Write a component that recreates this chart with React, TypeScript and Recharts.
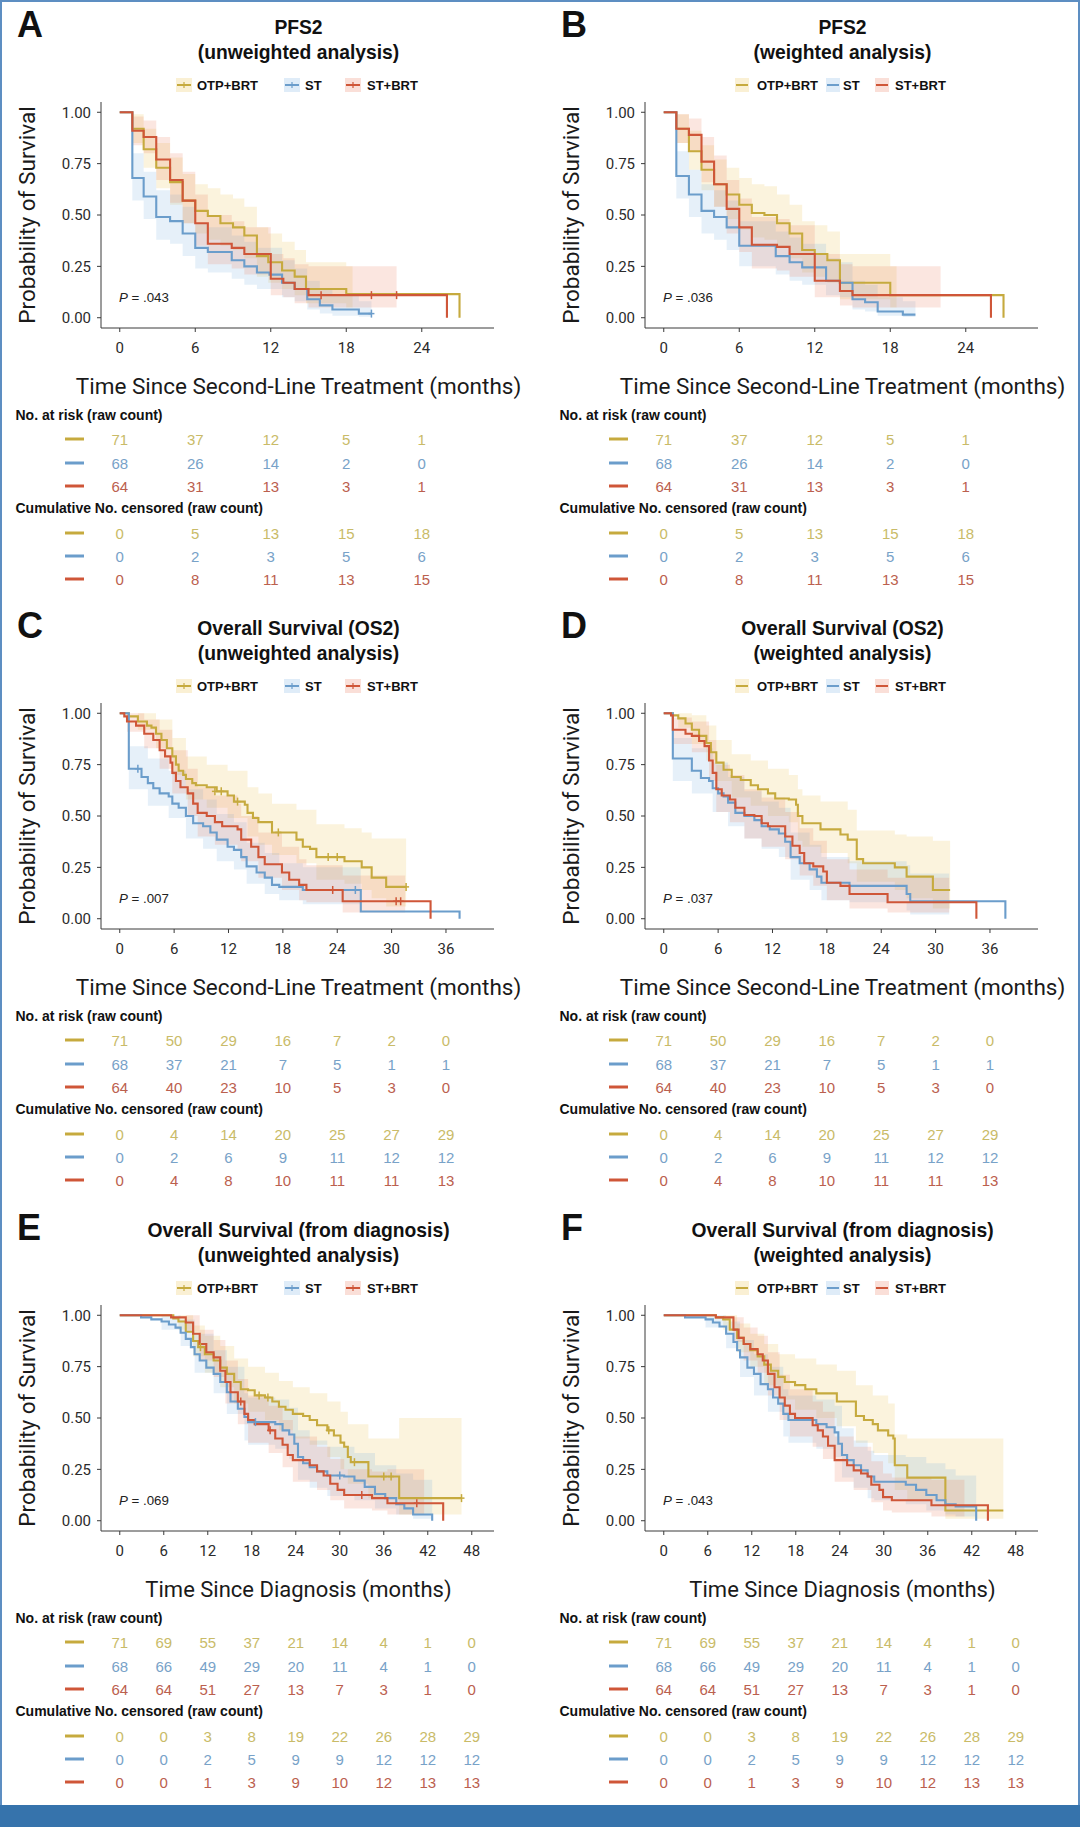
import React from 'react';
import { ComposedChart, Line, Area, Scatter, XAxis, YAxis } from 'recharts';

// ---------- colours ----------
const GOLD = '#c6aa3e';
const BLUE = '#6b9dcb';
const RED = '#cf5638';
const GOLD_FILL = '#eac455';
const BLUE_FILL = '#80b2e2';
const RED_FILL = '#ec8062';
const GOLD_NUM = '#c9bb68';
const BLUE_NUM = '#78a2c8';
const RED_NUM = '#bb604e';

const GROUPS = ['OTP+BRT', 'ST', 'ST+BRT'];
const Y_TICKS = [0, 0.25, 0.5, 0.75, 1];
const TICKS_24 = [0, 6, 12, 18, 24];
const TICKS_36 = [0, 6, 12, 18, 24, 30, 36];
const TICKS_48 = [0, 6, 12, 18, 24, 30, 36, 42, 48];

// ---------- Panel A: PFS2 unweighted ----------
const A_OTP = [[0,1],[1,0.92],[1.9,0.82],[2.9,0.73],[4,0.66],[5,0.57],[6,0.52],[7,0.495],[8,0.46],[9,0.44],[9.9,0.40],[10.9,0.30],[11.8,0.27],[12.9,0.23],[13.9,0.20],[14.8,0.14],[18,0.115],[27,0]];
const A_ST = [[0,1],[1,0.68],[1.9,0.59],[2.9,0.49],[4,0.47],[5,0.41],[6,0.34],[7,0.32],[8.9,0.28],[9.9,0.25],[10.9,0.22],[11.9,0.21],[12.9,0.17],[13.9,0.14],[14.9,0.09],[15.9,0.06],[16.9,0.04],[19,0.02],[20,0.02]];
const A_STB = [[0,1],[1,0.91],[1.9,0.88],[2.9,0.77],[4,0.67],[5,0.57],[6,0.46],[7,0.36],[8.9,0.34],[9.9,0.31],[12,0.19],[13,0.17],[13.9,0.14],[15,0.11],[26,0]];
const A_OTP_CI = [[0,1,1],[1,0.85,0.99],[1.9,0.73,0.92],[2.9,0.63,0.85],[4,0.55,0.78],[5,0.46,0.70],[6,0.41,0.65],[7,0.38,0.63],[8,0.35,0.60],[9,0.33,0.58],[9.9,0.29,0.54],[10.9,0.20,0.44],[11.8,0.17,0.41],[12.9,0.14,0.37],[13.9,0.11,0.33],[14.8,0.07,0.27],[18,0.05,0.25],[18.5,0.05,0.25]];
const A_ST_CI = [[0,1,1],[1,0.57,0.80],[1.9,0.48,0.71],[2.9,0.38,0.62],[4,0.36,0.60],[5,0.30,0.54],[6,0.24,0.46],[7,0.22,0.44],[8.9,0.19,0.40],[9.9,0.16,0.37],[10.9,0.14,0.34],[12.9,0.10,0.28],[13.9,0.08,0.24],[14.9,0.04,0.18],[15.9,0.02,0.14],[16.9,0.01,0.11],[19,0.005,0.08],[20,0.005,0.08]];
const A_STB_CI = [[0,1,1],[1,0.84,0.98],[1.9,0.80,0.96],[2.9,0.67,0.88],[4,0.56,0.80],[5,0.46,0.71],[6,0.35,0.60],[7,0.26,0.50],[8.9,0.24,0.47],[9.9,0.21,0.44],[12,0.11,0.31],[13,0.10,0.29],[13.9,0.07,0.26],[15,0.05,0.25],[22,0.05,0.25]];
const A_ST_CENS = [[20,0.02]];
const A_STB_CENS = [[16,0.11],[20,0.11],[22,0.11]];

// ---------- Panel B: PFS2 weighted ----------
const B_OTP = [[0,1],[1,0.92],[2,0.81],[3,0.72],[4,0.65],[5,0.60],[6,0.55],[7,0.51],[8,0.50],[9,0.46],[10,0.41],[11,0.33],[12,0.31],[13,0.28],[14,0.17],[18,0.11],[27,0]];
const B_ST = [[0,1],[1,0.69],[2,0.60],[3,0.52],[4,0.49],[5,0.44],[6,0.35],[8.9,0.30],[10,0.27],[11,0.245],[12.9,0.18],[14,0.17],[15,0.09],[16,0.075],[17,0.03],[19,0.015],[20,0.015]];
const B_STB = [[0,1],[1,0.92],[2,0.89],[3,0.76],[4,0.65],[5,0.53],[6,0.44],[7,0.355],[9,0.345],[10,0.31],[12,0.18],[14,0.13],[15,0.11],[26,0]];
const B_OTP_CI = [[0,1,1],[1,0.85,0.99],[2,0.72,0.91],[3,0.62,0.84],[4,0.54,0.77],[5,0.48,0.73],[6,0.43,0.68],[7,0.39,0.65],[8,0.38,0.64],[9,0.34,0.60],[10,0.29,0.55],[11,0.22,0.47],[12,0.20,0.45],[13,0.17,0.42],[14,0.09,0.31],[18,0.05,0.25],[18.5,0.05,0.25]];
const B_ST_CI = [[0,1,1],[1,0.58,0.81],[2,0.49,0.72],[3,0.41,0.65],[4,0.38,0.62],[5,0.33,0.57],[6,0.25,0.47],[8.9,0.21,0.42],[10,0.18,0.39],[11,0.16,0.36],[12.9,0.11,0.29],[14,0.10,0.27],[15,0.04,0.18],[16,0.03,0.16],[17,0.01,0.10],[19,0.003,0.08],[20,0.003,0.08]];
const B_STB_CI = [[0,1,1],[1,0.85,0.99],[2,0.81,0.97],[3,0.66,0.88],[4,0.54,0.79],[5,0.41,0.67],[6,0.32,0.58],[7,0.24,0.49],[9,0.23,0.48],[10,0.20,0.45],[12,0.10,0.31],[14,0.06,0.26],[15,0.05,0.25],[22,0.05,0.27]];

// ---------- Panel C: OS2 unweighted ----------
const C_OTP = [[0,1],[1,0.985],[2,0.96],[3,0.94],[3.5,0.93],[4,0.90],[4.6,0.87],[5.2,0.83],[5.8,0.79],[6.2,0.75],[6.5,0.72],[7,0.70],[7.3,0.68],[8,0.66],[8.4,0.65],[9.6,0.64],[10.7,0.62],[11.9,0.60],[12.6,0.57],[13.8,0.555],[14.1,0.515],[14.7,0.49],[15.3,0.47],[16.8,0.42],[19.5,0.385],[20.2,0.35],[21,0.34],[21.7,0.30],[24.8,0.28],[26.7,0.25],[27.8,0.20],[29.4,0.155],[31.6,0.155]];
const C_ST = [[0,1],[1,0.73],[2.4,0.69],[3.1,0.66],[3.7,0.635],[4.4,0.61],[5.4,0.595],[5.8,0.56],[6.5,0.54],[7.3,0.50],[8.1,0.465],[9.2,0.45],[10,0.42],[10.7,0.385],[11.9,0.35],[12.6,0.335],[13.4,0.30],[14,0.255],[15.1,0.225],[16,0.20],[16.8,0.165],[17.6,0.155],[20.2,0.14],[26.6,0.035],[37.5,0]];
const C_STB = [[0,1],[0.5,0.985],[0.8,0.96],[1.8,0.94],[2.7,0.90],[3.7,0.87],[4.4,0.82],[5,0.79],[5.6,0.76],[5.8,0.71],[6.2,0.67],[6.7,0.64],[7.5,0.61],[8.1,0.56],[8.6,0.515],[9.6,0.50],[10.5,0.47],[11.3,0.45],[13,0.435],[13.4,0.385],[14.5,0.35],[15.3,0.30],[16,0.265],[17.9,0.225],[18.7,0.19],[19.8,0.165],[20.6,0.14],[24.6,0.085],[34.3,0]];
const C_OTP_CI = [[0,1,1],[2,0.92,1],[4,0.83,0.97],[5.8,0.70,0.88],[7.3,0.58,0.79],[9.6,0.54,0.75],[11.9,0.49,0.72],[14.1,0.40,0.64],[15.3,0.36,0.61],[16.8,0.31,0.56],[19.5,0.27,0.53],[21.7,0.19,0.46],[24.8,0.17,0.44],[26.7,0.14,0.42],[27.8,0.10,0.39],[29.4,0.06,0.39],[31.6,0.06,0.39]];
const C_ST_CI = [[0,1,1],[1,0.63,0.84],[3.1,0.55,0.78],[5.4,0.49,0.72],[7.3,0.39,0.63],[9.2,0.34,0.58],[10.7,0.28,0.51],[12.6,0.24,0.47],[14,0.17,0.37],[16,0.12,0.32],[17.6,0.09,0.27],[20.2,0.07,0.25],[26.6,0.07,0.25]];
const C_STB_CI = [[0,1,1],[0.8,0.91,1],[2.7,0.83,0.97],[4.4,0.73,0.92],[5.8,0.61,0.82],[7.5,0.50,0.73],[8.6,0.40,0.64],[10.5,0.36,0.60],[13,0.33,0.56],[13.4,0.28,0.50],[15.3,0.20,0.42],[17.9,0.14,0.35],[19.8,0.09,0.29],[20.6,0.08,0.26],[24.6,0.03,0.21],[31.5,0.03,0.21]];
const C_OTP_CENS = [[10.5,0.62],[11.2,0.62],[13,0.57],[17.5,0.42],[23,0.30],[24,0.30],[31.6,0.155]];
const C_ST_CENS = [[2,0.73],[26,0.14]];
const C_STB_CENS = [[23.5,0.14],[30.5,0.085],[31,0.085]];

// ---------- Panel D: OS2 weighted ----------
const D_OTP = [[0,1],[1,0.99],[1.6,0.975],[2.4,0.95],[3.1,0.92],[3.9,0.89],[4.7,0.855],[5.2,0.81],[5.8,0.76],[6.6,0.725],[7.5,0.69],[8.5,0.675],[9.6,0.65],[10.4,0.63],[11.5,0.61],[12.3,0.585],[13.8,0.58],[14.6,0.555],[14.8,0.50],[15.3,0.465],[17.3,0.435],[19.5,0.41],[20.3,0.385],[21.3,0.29],[22,0.27],[25.5,0.25],[26.8,0.205],[29.7,0.14],[31.6,0.14]];
const D_ST = [[0,1],[1,0.78],[3.1,0.72],[4.1,0.685],[5,0.67],[5.4,0.635],[6,0.61],[6.6,0.595],[7.1,0.565],[7.9,0.515],[8.9,0.50],[10,0.48],[10.8,0.45],[11.7,0.435],[12.7,0.415],[13.4,0.375],[14,0.30],[15,0.27],[16.1,0.24],[16.9,0.205],[17.4,0.175],[20.5,0.16],[26.8,0.12],[27.2,0.085],[37.7,0]];
const D_STB = [[0,1],[0.8,0.99],[1,0.92],[2.4,0.90],[3.1,0.89],[3.9,0.865],[4.5,0.84],[5,0.77],[5.4,0.71],[5.8,0.63],[6.4,0.60],[7.3,0.58],[7.9,0.54],[8.9,0.505],[10,0.50],[10.8,0.465],[11.5,0.45],[13.4,0.40],[14.2,0.355],[15,0.32],[15.5,0.27],[16.5,0.255],[17.6,0.23],[18,0.175],[19.5,0.16],[20.5,0.12],[24.7,0.08],[34.5,0]];
const D_OTP_CI = [[0,1,1],[1.6,0.93,1],[3.1,0.85,0.99],[4.7,0.77,0.94],[5.8,0.67,0.87],[7.5,0.59,0.80],[9.6,0.55,0.77],[11.5,0.50,0.73],[13.8,0.47,0.70],[14.8,0.38,0.63],[15.3,0.35,0.60],[17.3,0.32,0.57],[20.3,0.27,0.53],[21.3,0.18,0.43],[25.5,0.14,0.41],[26.8,0.10,0.40],[29.7,0.05,0.38],[31.6,0.05,0.38]];
const D_ST_CI = [[0,1,1],[1,0.67,0.88],[3.1,0.61,0.83],[5.4,0.52,0.76],[7.1,0.45,0.69],[8.9,0.39,0.62],[10.8,0.34,0.57],[12.7,0.30,0.54],[14,0.19,0.42],[16.1,0.14,0.36],[17.4,0.09,0.30],[20.5,0.08,0.28],[26.8,0.04,0.26],[27.2,0.02,0.22],[31.5,0.02,0.22]];
const D_STB_CI = [[0,1,1],[1,0.85,0.98],[3.1,0.81,0.96],[5,0.67,0.87],[5.8,0.52,0.75],[7.3,0.47,0.70],[8.9,0.39,0.63],[10.8,0.35,0.59],[13.4,0.29,0.52],[15,0.21,0.44],[16.5,0.16,0.38],[18,0.09,0.29],[20.5,0.05,0.24],[24.7,0.03,0.20],[31.5,0.03,0.20]];

// ---------- Panel E: OS from diagnosis unweighted ----------
const E_OTP = [[0,1],[7.3,0.985],[8,0.97],[9,0.92],[10,0.875],[10.7,0.845],[11.6,0.81],[12.8,0.78],[13.7,0.745],[14.6,0.715],[15.6,0.675],[16.5,0.64],[17.5,0.635],[18.4,0.61],[19.8,0.60],[20.8,0.58],[21.7,0.555],[22.6,0.54],[23.6,0.52],[25,0.51],[25.9,0.49],[26.9,0.465],[28.3,0.44],[29.2,0.415],[30.1,0.38],[30.6,0.36],[31.1,0.31],[31.5,0.285],[33.9,0.215],[38.1,0.11],[46.6,0.11]];
const E_ST = [[0,1],[2.9,0.99],[4.3,0.98],[5.7,0.97],[6.7,0.955],[7.6,0.94],[8.3,0.915],[9,0.885],[9.7,0.845],[10.2,0.81],[10.9,0.78],[11.8,0.745],[12.8,0.715],[13.7,0.675],[14.6,0.625],[15.1,0.58],[16.1,0.545],[17,0.505],[17.5,0.48],[21.2,0.47],[22.2,0.44],[23.1,0.42],[23.8,0.375],[24.3,0.31],[25,0.28],[25.9,0.26],[26.9,0.24],[28.3,0.22],[30.6,0.215],[32,0.195],[33.4,0.165],[34.8,0.13],[36.2,0.11],[37.7,0.08],[38.8,0.06],[40,0.03],[42.6,0]];
const E_STB = [[0,1],[7,0.99],[9,0.965],[10,0.91],[10.9,0.86],[11.8,0.82],[12.8,0.795],[13.7,0.73],[14.4,0.675],[15.1,0.625],[16.1,0.58],[17,0.52],[17.5,0.49],[18.4,0.47],[20.3,0.44],[21.2,0.40],[22.2,0.37],[22.9,0.32],[23.6,0.295],[25.9,0.27],[26.9,0.24],[27.8,0.22],[28.7,0.18],[29.7,0.15],[30.6,0.125],[34.4,0.11],[36.5,0.085],[44.1,0]];
const E_OTP_CI = [[0,1,1],[8,0.93,1],[10,0.80,0.95],[11.6,0.72,0.90],[13.7,0.65,0.85],[15.6,0.57,0.79],[17.5,0.53,0.75],[19.8,0.49,0.72],[21.7,0.44,0.68],[23.6,0.40,0.65],[25.9,0.37,0.62],[28.3,0.31,0.58],[30.1,0.25,0.53],[31.1,0.18,0.47],[33.9,0.11,0.40],[38.1,0.03,0.50],[46.6,0.03,0.50]];
const E_ST_CI = [[0,1,1],[5.7,0.93,1],[8.3,0.85,0.98],[10.2,0.72,0.91],[12.8,0.62,0.83],[14.6,0.52,0.75],[17,0.39,0.62],[17.5,0.37,0.60],[21.2,0.35,0.59],[23.1,0.30,0.55],[24.3,0.20,0.44],[25.9,0.16,0.39],[28.3,0.12,0.36],[32,0.10,0.33],[34.8,0.06,0.27],[37.7,0.03,0.23],[40,0.01,0.20],[42.6,0.01,0.20]];
const E_STB_CI = [[0,1,1],[9,0.92,1],[10.9,0.78,0.93],[12.8,0.70,0.88],[14.4,0.57,0.78],[16.1,0.47,0.69],[17.5,0.38,0.61],[20.3,0.33,0.56],[22.2,0.26,0.49],[23.6,0.19,0.41],[26.9,0.15,0.36],[28.7,0.10,0.30],[30.6,0.06,0.25],[34.4,0.05,0.24],[36.5,0.03,0.25],[41.5,0.03,0.25]];
const E_OTP_CENS = [[11,0.845],[19,0.61],[20.2,0.60],[28.5,0.44],[32,0.285],[36,0.215],[37,0.215],[46.6,0.11]];
const E_ST_CENS = [[18.5,0.48],[30,0.22]];
const E_STB_CENS = [[16.5,0.58],[20.5,0.44],[33,0.125],[40.5,0.085]];

// ---------- Panel F: OS from diagnosis weighted ----------
const F_OTP = [[0,1],[7.1,0.99],[8.1,0.98],[9,0.93],[10,0.89],[10.9,0.86],[11.8,0.83],[12.8,0.80],[13.7,0.76],[14.6,0.73],[15.6,0.70],[16.5,0.675],[17.9,0.66],[19.3,0.64],[20.8,0.62],[23.6,0.58],[26.2,0.51],[27.3,0.49],[28.5,0.47],[29.2,0.44],[30.6,0.415],[31.3,0.40],[31.5,0.27],[33.2,0.21],[38.4,0.05],[46.3,0.05]];
const F_ST = [[0,1],[2.9,0.99],[5.7,0.98],[6.7,0.965],[7.6,0.945],[8.5,0.91],[9.5,0.87],[10,0.83],[10.4,0.795],[11.4,0.745],[12.3,0.715],[13.2,0.665],[14.2,0.64],[14.9,0.60],[15.6,0.57],[16.3,0.52],[17,0.49],[20.8,0.47],[22.2,0.455],[23.3,0.43],[23.8,0.375],[24.3,0.32],[25,0.295],[25.9,0.27],[26.9,0.245],[27.8,0.215],[28.7,0.19],[33,0.175],[34.4,0.15],[35.8,0.125],[37.2,0.10],[38.4,0.08],[39.8,0.07],[42.6,0]];
const F_STB = [[0,1],[7.1,0.99],[9.5,0.93],[10.2,0.89],[10.9,0.86],[11.8,0.835],[12.8,0.81],[13.5,0.78],[14.2,0.715],[15.1,0.65],[15.8,0.60],[16.5,0.56],[17.2,0.52],[17.9,0.50],[20.3,0.465],[21,0.44],[21.7,0.41],[22.4,0.365],[23.3,0.295],[25,0.27],[25.9,0.245],[26.9,0.23],[27.8,0.215],[28.3,0.175],[29.4,0.15],[29.9,0.115],[31.1,0.10],[36.5,0.075],[44.2,0]];
const F_OTP_CI = [[0,1,1],[8.1,0.93,1],[10,0.82,0.96],[11.8,0.75,0.91],[13.7,0.66,0.86],[15.6,0.59,0.81],[17.9,0.54,0.79],[20.8,0.50,0.76],[23.6,0.46,0.73],[26.2,0.38,0.66],[28.5,0.33,0.61],[30.6,0.28,0.57],[31.5,0.15,0.42],[33.2,0.10,0.40],[38.4,0.01,0.40],[46.3,0.01,0.40]];
const F_ST_CI = [[0,1,1],[5.7,0.94,1],[8.5,0.84,0.97],[10.4,0.70,0.88],[12.3,0.61,0.81],[14.2,0.53,0.75],[16.3,0.41,0.64],[17,0.38,0.61],[20.8,0.35,0.59],[23.3,0.31,0.56],[24.3,0.21,0.45],[25.9,0.16,0.39],[27.8,0.11,0.34],[28.7,0.10,0.32],[33,0.08,0.31],[35.8,0.05,0.28],[38.4,0.03,0.25],[39.8,0.02,0.22],[42.6,0.02,0.22]];
const F_STB_CI = [[0,1,1],[9.5,0.87,0.99],[10.9,0.78,0.94],[12.8,0.72,0.90],[14.2,0.61,0.82],[15.8,0.49,0.71],[17.2,0.41,0.64],[20.3,0.36,0.58],[21.7,0.30,0.53],[23.3,0.19,0.41],[25.9,0.15,0.36],[28.3,0.09,0.29],[29.9,0.05,0.23],[31.1,0.04,0.21],[36.5,0.02,0.20],[41,0.02,0.20]];

// ---------- risk tables ----------
const RISK_PFS = [[71,37,12,5,1],[68,26,14,2,0],[64,31,13,3,1]];
const CENS_PFS = [[0,5,13,15,18],[0,2,3,5,6],[0,8,11,13,15]];
const RISK_OS2 = [[71,50,29,16,7,2,0],[68,37,21,7,5,1,1],[64,40,23,10,5,3,0]];
const CENS_OS2 = [[0,4,14,20,25,27,29],[0,2,6,9,11,12,12],[0,4,8,10,11,11,13]];
const RISK_OSD = [[71,69,55,37,21,14,4,1,0],[68,66,49,29,20,11,4,1,0],[64,64,51,27,13,7,3,1,0]];
const CENS_OSD = [[0,0,3,8,19,22,26,28,29],[0,0,2,5,9,9,12,12,12],[0,0,1,3,9,10,12,13,13]];

const LINE_COLORS = [GOLD, BLUE, RED];
const FILL_COLORS = [GOLD_FILL, BLUE_FILL, RED_FILL];
const NUM_COLORS = [GOLD_NUM, BLUE_NUM, RED_NUM];

const X_LABEL_2L = 'Time Since Second-Line Treatment (months)';
const X_LABEL_DX = 'Time Since Diagnosis (months)';

const DOM_24 = [-1.49, 29.74];
const DOM_36 = [-2.07, 41.3];
const DOM_48 = [-2.56, 51.03];

const PANELS = [
  { id: 'A', left: 0, top: 0, title: ['PFS2', '(unweighted analysis)'], cross: true, domain: DOM_24, ticks: TICKS_24, xlabel: X_LABEL_2L, xfs: 22.5, p: '.043',
    curves: [A_OTP, A_ST, A_STB], cis: [A_OTP_CI, A_ST_CI, A_STB_CI], cens: [[], A_ST_CENS, A_STB_CENS], risk: RISK_PFS, censTab: CENS_PFS },
  { id: 'B', left: 544, top: 0, title: ['PFS2', '(weighted analysis)'], cross: false, domain: DOM_24, ticks: TICKS_24, xlabel: X_LABEL_2L, xfs: 22.5, p: '.036',
    curves: [B_OTP, B_ST, B_STB], cis: [B_OTP_CI, B_ST_CI, B_STB_CI], cens: [[], [], []], risk: RISK_PFS, censTab: CENS_PFS },
  { id: 'C', left: 0, top: 601, title: ['Overall Survival (OS2)', '(unweighted analysis)'], cross: true, domain: DOM_36, ticks: TICKS_36, xlabel: X_LABEL_2L, xfs: 22.5, p: '.007',
    curves: [C_OTP, C_ST, C_STB], cis: [C_OTP_CI, C_ST_CI, C_STB_CI], cens: [C_OTP_CENS, C_ST_CENS, C_STB_CENS], risk: RISK_OS2, censTab: CENS_OS2 },
  { id: 'D', left: 544, top: 601, title: ['Overall Survival (OS2)', '(weighted analysis)'], cross: false, domain: DOM_36, ticks: TICKS_36, xlabel: X_LABEL_2L, xfs: 22.5, p: '.037',
    curves: [D_OTP, D_ST, D_STB], cis: [D_OTP_CI, D_ST_CI, D_STB_CI], cens: [[], [], []], risk: RISK_OS2, censTab: CENS_OS2 },
  { id: 'E', left: 0, top: 1203, title: ['Overall Survival (from diagnosis)', '(unweighted analysis)'], cross: true, domain: DOM_48, ticks: TICKS_48, xlabel: X_LABEL_DX, xfs: 22, p: '.069',
    curves: [E_OTP, E_ST, E_STB], cis: [E_OTP_CI, E_ST_CI, E_STB_CI], cens: [E_OTP_CENS, E_ST_CENS, E_STB_CENS], risk: RISK_OSD, censTab: CENS_OSD },
  { id: 'F', left: 544, top: 1203, title: ['Overall Survival (from diagnosis)', '(weighted analysis)'], cross: false, domain: DOM_48, ticks: TICKS_48, xlabel: X_LABEL_DX, xfs: 22, p: '.043',
    curves: [F_OTP, F_ST, F_STB], cis: [F_OTP_CI, F_ST_CI, F_STB_CI], cens: [[], [], []], risk: RISK_OSD, censTab: CENS_OSD },
];

const toCurve = (a: number[][]) => a.map(([t, s]) => ({ t, s }));
const toBand = (a: number[][]) => a.map(([t, lo, hi]) => ({ t, band: [lo, hi] }));

const SANS = '"Liberation Sans", Arial, sans-serif';
const ROBOTO = 'Roboto, "Liberation Sans", sans-serif';
const PLOT_L = 101;
const PLOT_R = 494;

const LEGEND_CROSS = [{ x0: 177, tx: 197 }, { x0: 285, tx: 305 }, { x0: 346, tx: 367 }];
const LEGEND_LINE = [{ x0: 192, tx: 213 }, { x0: 283, tx: 299 }, { x0: 332, tx: 351 }];

function Panel({ cfg }: { cfg: any }) {
  const [d0, d1] = cfg.domain;
  const sx = (t: number) => PLOT_L + ((t - d0) / (d1 - d0)) * (PLOT_R - PLOT_L);
  const tickStyle = { fontSize: 15, fill: '#2b2b2b', fontFamily: ROBOTO };
  const legend = cfg.cross ? LEGEND_CROSS : LEGEND_LINE;
  const keyW = cfg.cross ? 14 : 12;
  const rowY1 = [439, 463, 486];
  const rowY2 = [533, 556, 579];
  return (
    <div style={{ position: 'absolute', left: cfg.left, top: cfg.top, width: 536, height: 600 }}>
      <div style={{ position: 'absolute', left: 0, top: 0 }}>
        <ComposedChart width={PLOT_R + 12} height={358} margin={{ top: 102, right: 12, bottom: 0, left: 0 }}>
          <XAxis type="number" dataKey="t" domain={cfg.domain} allowDataOverflow ticks={cfg.ticks} interval={0}
            height={30} tickSize={4} tickMargin={10} stroke="#3a3a3a" tick={tickStyle} />
          <YAxis type="number" domain={[-0.05, 1.05]} allowDataOverflow ticks={Y_TICKS} interval={0}
            tickFormatter={(v: number) => v.toFixed(2)} width={PLOT_L} tickSize={4} tickMargin={6} stroke="#3a3a3a" tick={tickStyle} />
          {cfg.cis.map((ci: number[][], i: number) => (
            <Area key={'ci' + i} data={toBand(ci)} dataKey="band" type="stepAfter" fill={FILL_COLORS[i]} fillOpacity={0.2}
              stroke="none" isAnimationActive={false} activeDot={false} />
          ))}
          {cfg.curves.map((c: number[][], i: number) => (
            <Line key={'ln' + i} data={toCurve(c)} dataKey="s" type="stepAfter" stroke={LINE_COLORS[i]} strokeWidth={2.1}
              dot={false} activeDot={false} isAnimationActive={false} />
          ))}
          {cfg.cens.map((c: number[][], i: number) => (
            c.length ? (
              <Scatter key={'cs' + i} data={toCurve(c)} dataKey="s" isAnimationActive={false}
                shape={(p: any) => (
                  <g>
                    <line x1={p.cx} x2={p.cx} y1={p.cy - 4} y2={p.cy + 4} stroke={LINE_COLORS[i]} strokeWidth={1.5} />
                    <line x1={p.cx - 3} x2={p.cx + 3} y1={p.cy} y2={p.cy} stroke={LINE_COLORS[i]} strokeWidth={1.5} />
                  </g>
                )} />
            ) : null
          ))}
        </ComposedChart>
      </div>
      <svg width={536} height={600} style={{ position: 'absolute', left: 0, top: 0, pointerEvents: 'none' }}>
        <text x={17} y={37} fontFamily={SANS} fontWeight="bold" fontSize={36} fill="#111">{cfg.id}</text>
        <text x={298.5} y={34} textAnchor="middle" fontFamily={SANS} fontWeight="bold" fontSize={19.3} fill="#111">{cfg.title[0]}</text>
        <text x={298.5} y={59} textAnchor="middle" fontFamily={SANS} fontWeight="bold" fontSize={19.3} fill="#111">{cfg.title[1]}</text>
        {GROUPS.map((g, i) => (
          <g key={'lg' + i}>
            <rect x={legend[i].x0 - 1} y={78} width={keyW + 2} height={14} fill={FILL_COLORS[i]} fillOpacity={0.25} />
            <line x1={legend[i].x0} x2={legend[i].x0 + keyW} y1={85} y2={85} stroke={LINE_COLORS[i]} strokeWidth={2} />
            {cfg.cross ? <line x1={legend[i].x0 + keyW / 2} x2={legend[i].x0 + keyW / 2} y1={82} y2={88} stroke={LINE_COLORS[i]} strokeWidth={1.2} /> : null}
            <text x={legend[i].tx} y={90} fontFamily={SANS} fontWeight="bold" fontSize={13} fill="#111">{g}</text>
          </g>
        ))}
        <text x={27.5} y={215} transform="rotate(-90 27.5 215)" textAnchor="middle" dominantBaseline="central" fontFamily={ROBOTO} fontSize={22.6} fill="#1a1a1a">Probability of Survival</text>
        <text x={298.5} y={386} textAnchor="middle" dominantBaseline="central" fontFamily={ROBOTO} fontSize={cfg.xfs} fill="#1a1a1a">{cfg.xlabel}</text>
        <text x={119} y={302} fontFamily={SANS} fontSize={13.3} fill="#222"><tspan fontStyle="italic">P</tspan> = {cfg.p}</text>
        <text x={15.5} y={420} fontFamily={SANS} fontWeight="bold" fontSize={14} fill="#111">No. at risk (raw count)</text>
        <text x={15.5} y={513} fontFamily={SANS} fontWeight="bold" fontSize={14} fill="#111">Cumulative No. censored (raw count)</text>
        {[0, 1, 2].map((i) => (
          <g key={'rt' + i}>
            <line x1={65} x2={84} y1={rowY1[i]} y2={rowY1[i]} stroke={LINE_COLORS[i]} strokeWidth={3} />
            <line x1={65} x2={84} y1={rowY2[i]} y2={rowY2[i]} stroke={LINE_COLORS[i]} strokeWidth={3} />
            {cfg.risk[i].map((v: number, j: number) => (
              <text key={'r' + j} x={sx(cfg.ticks[j])} y={rowY1[i] + 5.5} textAnchor="middle" fontFamily={SANS} fontSize={15} fill={NUM_COLORS[i]}>{v}</text>
            ))}
            {cfg.censTab[i].map((v: number, j: number) => (
              <text key={'c' + j} x={sx(cfg.ticks[j])} y={rowY2[i] + 5.5} textAnchor="middle" fontFamily={SANS} fontSize={15} fill={NUM_COLORS[i]}>{v}</text>
            ))}
          </g>
        ))}
      </svg>
    </div>
  );
}

export default function App() {
  return (
    <div style={{ position: 'absolute', left: 0, top: 0, width: 1080, height: 1827, background: '#fff', overflow: 'hidden' }}>
      <div style={{ position: 'absolute', left: 0, top: 0, width: 1080, height: 1805, boxSizing: 'border-box', borderTop: '2px solid #5d8ec2', borderLeft: '2px solid #5d8ec2', borderRight: '2px solid #5d8ec2' }} />
      {PANELS.map((p) => <Panel key={p.id} cfg={p} />)}
      <div style={{ position: 'absolute', left: 0, top: 1805, width: 1080, height: 22, background: '#3673ac' }} />
    </div>
  );
}
